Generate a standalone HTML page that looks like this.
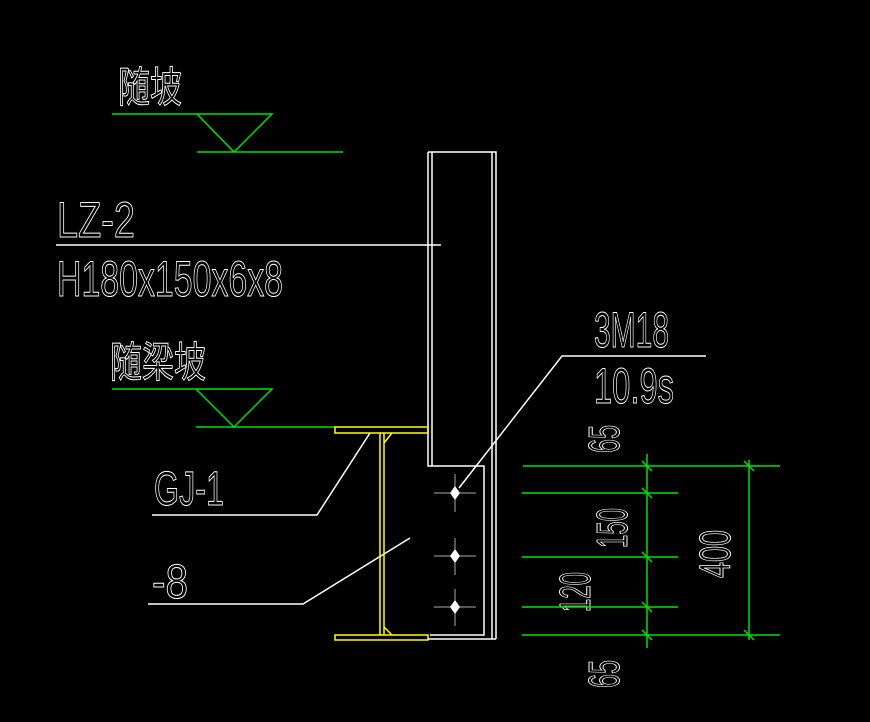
<!DOCTYPE html>
<html><head><meta charset="utf-8"><style>html,body{margin:0;padding:0;background:#000}svg{display:block}</style></head>
<body>
<svg width="870" height="722" viewBox="0 0 870 722" xmlns="http://www.w3.org/2000/svg">
<rect width="870" height="722" fill="#000"/>
<g font-family="Liberation Sans, 'Noto Sans CJK SC', sans-serif" fill="none" stroke="#fff" stroke-width="1">
<text x="118" y="102" font-size="42" textLength="64" lengthAdjust="spacingAndGlyphs">随坡</text>
<text x="57" y="237" font-size="50" textLength="78" lengthAdjust="spacingAndGlyphs">LZ-2</text>
<text x="57" y="296" font-size="50" textLength="226" lengthAdjust="spacingAndGlyphs">H180x150x6x8</text>
<text x="110" y="377" font-size="42" textLength="96" lengthAdjust="spacingAndGlyphs">随梁坡</text>
<text x="154" y="505" font-size="48" textLength="70" lengthAdjust="spacingAndGlyphs">GJ-1</text>
<text x="152" y="598" font-size="48" textLength="36" lengthAdjust="spacingAndGlyphs">-8</text>
<text x="594" y="347" font-size="50" textLength="75" lengthAdjust="spacingAndGlyphs">3M18</text>
<text x="594" y="403" font-size="50" textLength="80" lengthAdjust="spacingAndGlyphs">10.9s</text>
<text transform="translate(619,453) rotate(-90)" font-size="44" textLength="28" lengthAdjust="spacingAndGlyphs">65</text>
<text transform="translate(627,548) rotate(-90)" font-size="44" textLength="40" lengthAdjust="spacingAndGlyphs">150</text>
<text transform="translate(590,612) rotate(-90)" font-size="44" textLength="40" lengthAdjust="spacingAndGlyphs">120</text>
<text transform="translate(730,578) rotate(-90)" font-size="44" textLength="48" lengthAdjust="spacingAndGlyphs">400</text>
<text transform="translate(619,688) rotate(-90)" font-size="44" textLength="28" lengthAdjust="spacingAndGlyphs">65</text>
</g>
<g stroke="#00e000" stroke-width="1.5" fill="none">
<path d="M112 114H272L234 152L197 114M197 152H343"/>
<path d="M112 389H272L234 427L196 389M196 427H335"/>
<path d="M523 466H780M522 493H678M522 557H678M522 607H678M522 635H780"/>
<path d="M647 454V648M749 460V640"/>
<path d="M642 461L652 471M642 488L652 498M642 552L652 562M642 602L652 612M642 630L652 640M744 461L754 471M744 630L754 640"/>
</g>
<g stroke="#fff" stroke-width="1.5" fill="none">
<path d="M56 245H441"/>
<path d="M428 152H496V639M432 152V466M492 152V639M428 152V466H484V635H430"/>
<path d="M428 639H496"/>
<path d="M370 433L317 515H152"/>
<path d="M410 538L303 604H148"/>
<path d="M459 488L562 356H706"/>
</g>
<g stroke="#ffff00" stroke-width="1.5" fill="none">
<rect x="335" y="427" width="93" height="6"/>
<rect x="335" y="635" width="93" height="5"/>
<path d="M380 433V635M384 433V635"/>
<path d="M384 443L392 433M384 627L392 635"/>
</g>
<g stroke="#aaa" stroke-width="1">
<path d="M434 493H476M434 556H476M434 607H476M455 474V512M455 538V575M455 589V626"/>
</g>
<g fill="#fff">
<path d="M455 486L460 493L455 500L450 493Z"/>
<path d="M455 549L460 556L455 563L450 556Z"/>
<path d="M455 600L460 607L455 614L450 607Z"/>
</g>
</svg>
</body></html>
